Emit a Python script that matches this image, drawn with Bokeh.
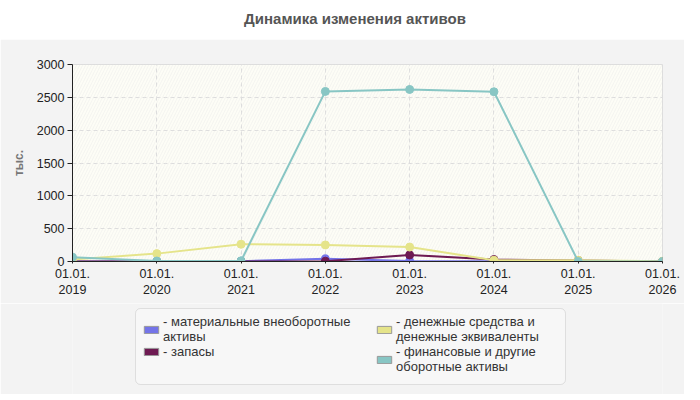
from bokeh.plotting import figure
from bokeh.models import (Div, Legend, LegendItem, BoxAnnotation, FixedTicker,
                          ColumnDataSource)
from bokeh.layouts import column
from bokeh.embed import file_html
from bokeh.resources import INLINE

title_text = "Динамика изменения активов"
y_label = "тыс."
years = [2019, 2020, 2021, 2022, 2023, 2024, 2025, 2026]
tick_labels = ["01.01.\n2019", "01.01.\n2020", "01.01.\n2021", "01.01.\n2022",
               "01.01.\n2023", "01.01.\n2024", "01.01.\n2025", "01.01.\n2026"]

names = ["материальные внеоборотные\nактивы", "запасы",
         "денежные средства и\nденежные эквиваленты",
         "финансовые и другие\nоборотные активы"]
tangible = [0, 0, 5, 40, 8, 5, 0, 0]
inventory = [0, 0, 0, 5, 100, 30, 15, 0]
cash = [30, 120, 263, 252, 220, 20, 20, 5]
financial = [65, 8, 10, 2590, 2620, 2585, 0, 0]
colors = ["#7474e8", "#6e1a52", "#e5e48a", "#88c6c4"]

W = 684
FONT = "Liberation Sans"
PANEL = "#f3f3f3"
BL, BR = 72, 22

title = Div(text=title_text, width=W, height=29,
            styles={"text-align": "center", "font-family": FONT, "font-weight": "bold",
                    "font-size": "15px", "color": "#555555", "width": "684px",
                    "padding-top": "3px", "padding-left": "16px",
                    "box-sizing": "border-box"})

p = figure(width=W, height=264, output_backend="svg", toolbar_location=None,
           x_range=(2019, 2026), y_range=(0, 3000),
           min_border_left=BL, min_border_right=BR, min_border_top=25,
           min_border_bottom=42)
p.border_fill_color = PANEL
p.background_fill_color = "#fdfdf6"
p.outline_line_color = "#dddddd"

p.add_layout(BoxAnnotation(left=2019, right=2026, bottom=0, top=3000,
                           fill_alpha=0, line_alpha=0, hatch_pattern="/",
                           hatch_color="#e6e6e6", hatch_alpha=0.6, hatch_scale=6,
                           hatch_weight=0.6, level="underlay"))

p.xaxis.ticker = FixedTicker(ticks=years)
p.xaxis.major_label_overrides = {y: l for y, l in zip(years, tick_labels)}
p.yaxis.ticker = FixedTicker(ticks=[0, 500, 1000, 1500, 2000, 2500, 3000])
for ax in (p.xaxis[0], p.yaxis[0]):
    ax.major_label_text_font = FONT
    ax.major_label_text_font_size = "12.5px"
    ax.major_label_text_color = "#222222"
    ax.axis_line_color = "#222222"
    ax.major_tick_line_color = "#222222"
    ax.minor_tick_line_color = None
    ax.major_tick_in = 0
p.xaxis.major_tick_out = 2
p.xaxis.major_label_standoff = 3
p.yaxis.major_tick_out = 5
p.yaxis.major_label_standoff = 3
p.yaxis.axis_label = y_label
p.yaxis.axis_label_text_font = FONT
p.yaxis.axis_label_text_font_style = "bold"
p.yaxis.axis_label_text_font_size = "12px"
p.yaxis.axis_label_text_color = "#777777"
p.yaxis.axis_label_standoff = 8

p.xgrid.grid_line_color = "#dddddd"
p.xgrid.grid_line_dash = "4 3"
p.ygrid.grid_line_color = "#dddddd"
p.ygrid.grid_line_dash = "4 3"

series = [tangible, inventory, cash, financial]
for i in range(4):
    src = ColumnDataSource(dict(x=years, y=series[i]))
    p.line("x", "y", source=src, line_color=colors[i], line_width=2)
    p.scatter("x", "y", source=src, size=8, fill_color=colors[i], line_color=colors[i])

# legend figure below the chart; its ranges map data units to page pixels
lf = figure(width=W, height=91, output_backend="svg", toolbar_location=None,
            x_range=(72, 662), y_range=(392, 301), x_axis_type=None, y_axis_type=None,
            min_border_left=BL, min_border_right=BR, min_border_top=0,
            min_border_bottom=0)
lf.border_fill_color = PANEL
lf.background_fill_color = PANEL
lf.outline_line_color = None
lf.add_layout(BoxAnnotation(left=135, right=565, top=306, bottom=382,
                            fill_color="#f7f7f7", fill_alpha=1,
                            line_color="#aaaaaa", line_width=1, border_radius=5))

swatches = []
for i in range(4):
    r = lf.rect(x=[-10], y=[-10], width=1, height=1, fill_color=colors[i],
                line_color="#999999")
    swatches.append(r)

common = dict(label_text_font=FONT, label_text_font_size="13px",
              label_text_color="#333333", label_standoff=3,
              glyph_width=18, glyph_height=9, spacing=0, padding=3, margin=0,
              background_fill_alpha=0, border_line_color=None, label_height=12)
leg1 = Legend(items=[LegendItem(label="- " + names[i], renderers=[swatches[i]]) for i in (0, 1)],
              location=(70, 35), **common)
leg2 = Legend(items=[LegendItem(label="- " + names[i], renderers=[swatches[i]]) for i in (2, 3)],
              location=(303, 20), **common)
lf.add_layout(leg1, "center")
lf.add_layout(leg2, "center")

layout = column(title, p, lf, spacing=0)
open("out.html", "w").write(file_html(layout, INLINE))
